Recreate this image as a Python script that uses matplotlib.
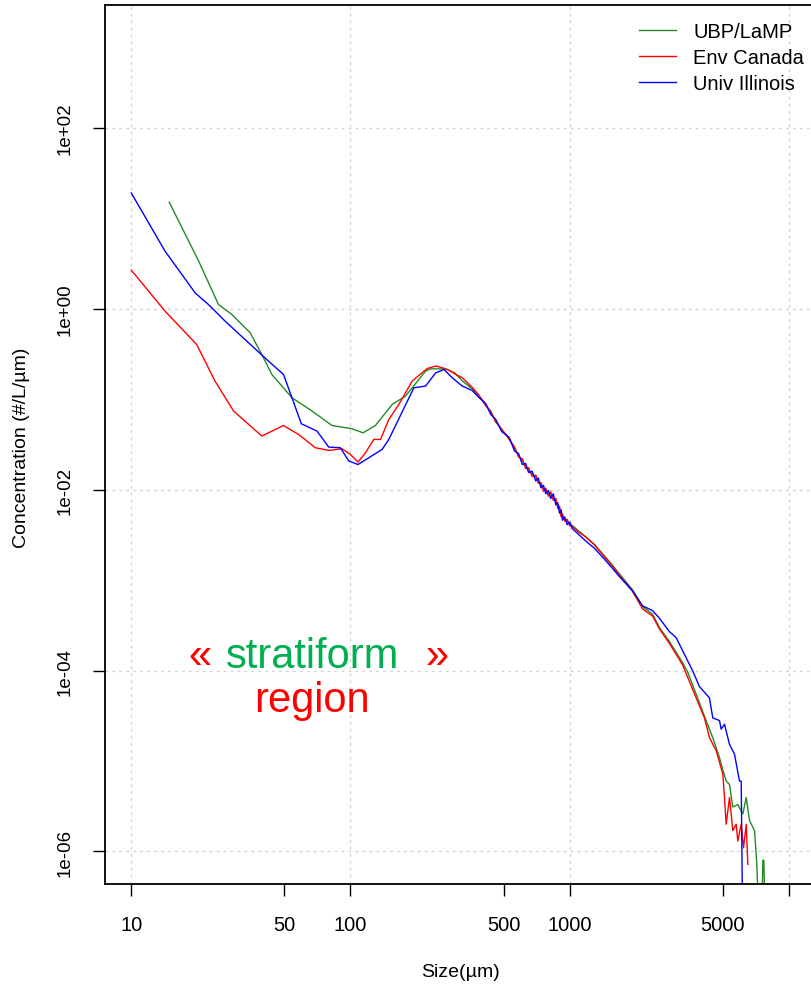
import matplotlib
matplotlib.use("Agg")
import matplotlib.pyplot as plt
import numpy as np

plt.rcParams["font.family"] = ["Liberation Sans", "DejaVu Sans"]

# --- data ---
ubp_size = [14.9, 20.3, 25.0, 28.8, 34.9, 39.4, 43.8, 54.1, 66.8, 82.4, 101.7, 114.2,
            130.1, 155.0, 178.4, 220.3, 232.2, 271.9, 300, 323.8,
            360, 385, 414, 437, 460, 490, 530, 560, 585, 609, 630, 650, 675, 701, 720,
            740, 760, 779, 800, 820, 843, 866, 883, 900, 915, 928, 950, 975, 1000, 1031,
            1100, 1187, 1300, 1414, 1550, 1686, 1939, 2154, 2394, 2568, 2854,
            3283, 3461, 3780, 4201, 4502, 4832, 5003, 5184, 5368, 5557, 5857, 6174,
            6400, 6624, 6984, 7155, 7362, 7500, 7621, 7700, 7843]
ubp_conc = [15.1, 3.37, 1.116, 0.865, 0.543, 0.313, 0.188, 0.104, 0.0741, 0.0513, 0.0472, 0.0426,
            0.0513, 0.0876, 0.1085, 0.205, 0.217, 0.217, 0.195, 0.16,
            0.130, 0.110, 0.088, 0.071, 0.058, 0.046, 0.037, 0.029, 0.024, 0.021, 0.0180, 0.0168,
            0.0148, 0.0138, 0.0122, 0.0115, 0.0103, 0.0098, 0.0093, 0.0087, 0.0082, 0.0074,
            0.0068, 0.0061, 0.0056, 0.0052, 0.0048, 0.0045, 0.0042, 0.0040,
            0.0035, 0.0030, 0.00248, 0.00196, 0.00152, 0.00118, 0.00078, 0.00051, 0.00042,
            0.00030, 0.00021,
            1.22e-4, 9.6e-5, 5.5e-5, 2.78e-5, 1.82e-5, 1.09e-5, 8.0e-6, 6.0e-6, 5.5e-6,
            3.1e-6, 3.3e-6, 2.6e-6, 3.95e-6, 2.2e-6, 1.7e-6, 7.2e-7, 1e-7, 1e-7, 8e-7, 8e-7, 1e-7]

env_size = [10, 14.26, 19.89, 24.1, 29.3, 39.4, 49.5, 58.0, 69.2, 79.6, 91.5, 100,
            108.3, 117.1, 127.8, 137.2, 149.7, 166.3, 191.3, 224.0, 244.8, 260, 281.5,
            300, 323.8,
            360, 385, 414, 437, 460, 490, 530, 560, 585, 609, 630, 650, 675, 701, 720,
            740, 760, 779, 800, 820, 843, 866, 883, 900, 915, 928, 950, 975, 1000, 1031,
            1100, 1187, 1300, 1414, 1550, 1686, 1939, 2154, 2394, 2568, 2854,
            3283, 3780, 4126, 4347, 4667, 5003, 5093, 5184, 5368, 5557, 5760, 5857,
            6071, 6220, 6400, 6509]
env_conc = [2.68, 0.943, 0.403, 0.159, 0.0741, 0.0392, 0.0513, 0.0408, 0.0291, 0.0272, 0.0284,
            0.0245, 0.0202, 0.0256, 0.0360, 0.0360, 0.0598, 0.0876, 0.159, 0.219, 0.233,
            0.225, 0.21, 0.19, 0.173,
            0.135, 0.112, 0.085, 0.074, 0.056, 0.047, 0.036, 0.030, 0.023, 0.022, 0.0172,
            0.0175, 0.0140, 0.0145, 0.0118, 0.0120, 0.0096, 0.0104, 0.0085, 0.0095, 0.0076,
            0.0080, 0.0062, 0.0066, 0.0050, 0.0054, 0.0045, 0.0047, 0.0040, 0.0039,
            0.0034, 0.0030, 0.00245, 0.00192, 0.00148, 0.00114, 0.00075, 0.00048, 0.00040,
            0.00029, 0.00020,
            1.15e-4, 5.0e-5, 3.0e-5, 1.82e-5, 1.3e-5, 7.2e-6, 3.95e-6, 2.0e-6, 3.95e-6,
            1.7e-6, 2.0e-6, 1.3e-6, 2.0e-6, 1.1e-6, 2.0e-6, 7.2e-7]

uiuc_size = [10, 14.26, 19.56, 22.5, 26.8, 34.3, 42.3, 49.5, 54.1, 59.7, 70.4, 79.6,
             90.0, 98.2, 108.3, 139.5, 149.7, 194.7, 220.3, 244.8, 267.1, 291.5, 323.8,
             359.8,
             385, 414, 437, 460, 490, 530, 560, 585, 609, 630, 650, 675, 701, 720,
             740, 760, 779, 800, 820, 843, 866, 883, 900, 915, 928, 950, 975, 1000, 1031,
             1100, 1187, 1300, 1414, 1550, 1686, 1939, 2154, 2394, 2568, 2854,
             3062, 3402, 3648, 3914, 4347, 4502, 4832, 4918, 5093, 5368, 5657, 5964,
             6071, 6174]
uiuc_conc = [19.1, 4.34, 1.50, 1.116, 0.731, 0.421, 0.264, 0.188, 0.104, 0.0536, 0.0445,
             0.0296, 0.0291, 0.0208, 0.0190, 0.0279, 0.0360, 0.134, 0.140, 0.196, 0.2135,
             0.173, 0.140, 0.125,
             0.105, 0.090, 0.068, 0.060, 0.044, 0.038, 0.027, 0.025, 0.019, 0.0195, 0.0155,
             0.0160, 0.0125, 0.0135, 0.0105, 0.0112, 0.0090, 0.0098, 0.0080, 0.0090, 0.0068,
             0.0072, 0.0055, 0.0060, 0.0046, 0.0050, 0.0041, 0.0044, 0.0037,
             0.0032, 0.0027, 0.00225, 0.00180, 0.00140, 0.00110, 0.00076, 0.00052, 0.00046,
             0.00038, 0.00027,
             2.32e-4, 1.39e-4, 9.9e-5, 6.65e-5, 5.0e-5, 3.0e-5, 2.8e-5, 2.25e-5, 2.55e-5,
             1.53e-5, 1.19e-5, 6.0e-6, 6.0e-6, 1e-7]

x_ticks = [10, 50, 100, 500, 1000, 5000, 10000]
x_tick_labels = ["10", "50", "100", "500", "1000", "5000", ""]
y_ticks = [1e-6, 1e-4, 1e-2, 1e0, 1e2]
y_tick_labels = ["1e-06", "1e-04", "1e-02", "1e+00", "1e+02"]

W, H = 811, 987
fig = plt.figure(figsize=(W / 100, H / 100), dpi=100)
# axes extends past the right edge of the picture, as in the cropped reference
ax = fig.add_axes([105 / W, 102 / H, 710 / W, 879 / H])

ax.plot(ubp_size, ubp_conc, color="#228B22", lw=1.0, label="UBP/LaMP")
ax.plot(env_size, env_conc, color="red", lw=1.0, label="Env Canada")
ax.plot(uiuc_size, uiuc_conc, color="blue", lw=1.0, label="Univ Illinois")

ax.set_xscale("log")
ax.set_yscale("log")
ax.set_xlim(10 ** 0.88, 10 ** 4.12)
ax.set_ylim(10 ** -6.36, 10 ** 3.36)

ax.set_xticks(x_ticks)
ax.set_xticklabels(x_tick_labels, fontsize=14.5)
ax.set_yticks(y_ticks)
ax.set_yticklabels(y_tick_labels, fontsize=13.5, rotation=90, va="center")
ax.minorticks_off()
ax.tick_params(axis="both", length=8.5, width=1, direction="out", pad=14)

for v in [10, 100, 1000, 10000]:
    ax.axvline(v, color="#d3d3d3", lw=1, ls=(0, (2, 3)), zorder=0)
for v in y_ticks:
    ax.axhline(v, color="#d3d3d3", lw=1, ls=(0, (2, 3)), zorder=0)

for s in ax.spines.values():
    s.set_linewidth(1.3)

ax.set_xlabel("Size(µm)", fontsize=14)
ax.xaxis.set_label_coords(0.5, -0.099)
ax.xaxis.label.set_va("center")
ax.set_ylabel("Concentration (#/L/µm)", fontsize=14)
ax.yaxis.set_label_coords(-0.117, 0.497)
ax.yaxis.label.set_va("center")

ax.legend(loc="upper left", bbox_to_anchor=(639 / W, 1 - 23 / H),
          bbox_transform=fig.transFigure, frameon=False, fontsize=14.5,
          handlelength=1.85, handletextpad=0.85, labelspacing=0.34,
          borderpad=0, borderaxespad=0)

ax.text(0.1338, 0.2469, "«", color="red", fontsize=30, ha="center", va="baseline",
        transform=ax.transAxes)
ax.text(0.2923, 0.2469, "stratiform", color="#00B050", fontsize=30, ha="center",
        va="baseline", transform=ax.transAxes)
ax.text(0.4669, 0.2469, "»", color="red", fontsize=30, ha="center", va="baseline",
        transform=ax.transAxes)
ax.text(0.2908, 0.1972, "region", color="red", fontsize=30, ha="center", va="baseline",
        transform=ax.transAxes)

fig.savefig("out.png", dpi=100)
